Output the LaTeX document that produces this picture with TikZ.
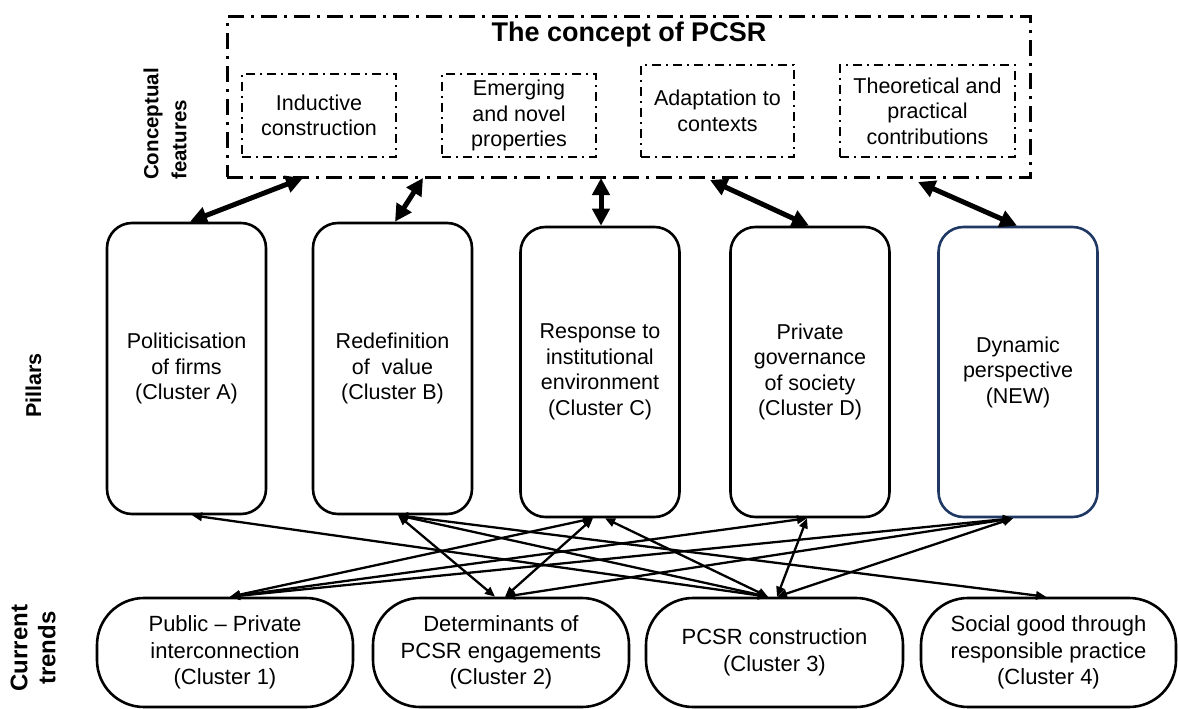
\documentclass[tikz,border=0pt]{standalone}
\usepackage{fontspec}
\setmainfont{Liberation Sans}
\usetikzlibrary{arrows.meta,calc}
\definecolor{navy}{RGB}{31,56,100}
\begin{document}
\begin{tikzpicture}[x=1pt,y=1pt,
  txt/.style={font=\fontsize{21.5}{25.5}\selectfont, align=center},
  pillar/.style={draw, line width=2.6pt, rounded corners=25pt, txt, minimum width=159pt, minimum height=291pt, inner sep=0pt},
  trend/.style={draw, line width=2.6pt, rounded corners=47pt, font=\fontsize{22}{26.5}\selectfont, align=center, minimum width=256pt, minimum height=109pt, inner sep=0pt},
  feat/.style={draw, line width=2pt, dash pattern=on 9pt off 5pt on 2pt off 5pt, txt, inner sep=0pt},
  outerbox/.style={draw, line width=3pt, dash pattern=on 16pt off 7pt on 3pt off 7pt, inner sep=0pt},
  bigarrow/.style={line width=5pt, {Triangle[length=17pt,width=17pt]}-{Triangle[length=17pt,width=17pt]}},
  thinarrow/.style={line width=2.3pt, {Triangle[length=10pt,width=8.5pt]}-{Triangle[length=10pt,width=8.5pt]}},
  sidelabel/.style={font=\bfseries, rotate=90, inner sep=0pt}
]
\useasboundingbox (0,0) rectangle (1178,-709);

% outer concept box
\node[outerbox, minimum width=803pt, minimum height=160pt] (outer) at (628.5,-97) {};
\node[font=\fontsize{27}{31}\selectfont\bfseries, anchor=base] (title) at (629,-42) {The concept of PCSR};

% conceptual features
\node[feat, minimum width=154pt, minimum height=83pt] (ind) at (319,-115.5) {Inductive\\construction};
\node[feat, minimum width=154pt, minimum height=83pt] (emg) at (519,-115.5) {Emerging\\and novel\\properties};
\node[feat, minimum width=153pt, minimum height=92pt] (ada) at (717.5,-111) {Adaptation to\\contexts};
\node[feat, minimum width=175pt, minimum height=92pt] (the) at (927.5,-111) {Theoretical and\\practical\\contributions};

% pillars
\node[pillar] (pa) at (186.5,-368.5) {Politicisation\\of firms\\(Cluster A)};
\node[pillar] (pb) at (392.5,-368.5) {Redefinition\\of\ \ value\\(Cluster B)};
\node[pillar, minimum height=290pt] (pc) at (600,-372) {Response to\\institutional\\environment\\(Cluster C)};
\node[pillar, minimum height=290pt] (pd) at (810,-372) {Private\\governance\\of society\\(Cluster D)};
\node[pillar, minimum height=290pt, draw=navy] (pn) at (1018,-372) {Dynamic\\perspective\\(NEW)};

% current trends
\node[trend] (t1) at (225,-652.5) {Public -- Private\\interconnection\\(Cluster 1)};
\node[trend] (t2) at (501,-652.5) {Determinants of\\PCSR engagements\\(Cluster 2)};
\node[trend, minimum width=257pt] (t3) at (774.5,-652.5) {PCSR construction\\(Cluster 3)};
\node[trend, minimum width=255pt] (t4) at (1048.5,-652.5) {Social good through\\responsible practice\\(Cluster 4)};

% side labels
\node[sidelabel, font=\fontsize{20.5}{28}\selectfont\bfseries, align=left, anchor=west] (lconc) at (165,-180) {Conceptual\\features};
\node[sidelabel, font=\fontsize{21.5}{26}\selectfont\bfseries] (lpil) at (33.5,-385.5) {Pillars};
\node[sidelabel, font=\fontsize{24}{28}\selectfont\bfseries, align=center] (ltr) at (33,-648) {Current\\trends};

% thick arrows from the concept box to the pillars
\coordinate (f1) at (303,-178);
\coordinate (f2) at (423,-178);
\coordinate (f3) at (601,-178);
\coordinate (f4) at (710,-180);
\coordinate (f5) at (918,-182);
\draw[bigarrow] (f1) -- ($(pa.north)+(3.5,0)$);
\draw[bigarrow] (f2) -- ($(pb.north)+(2.5,0)$);
\draw[bigarrow] (f3) -- ($(pc.north)+(1,0)$);
\draw[bigarrow] (f4) -- ($(pd.north)+(-1,0)$);
\draw[bigarrow] (f5) -- ($(pn.north)+(-1,0)$);

% thin arrows between pillars and trends
\draw[thinarrow] ($(pa.south)+(5.5,0)$) -- ($(t3.north)+(-6.5,0)$);
\draw[thinarrow] ($(pb.south)+(5.5,0)$) -- ($(t2.north)+(-6,0)$);
\draw[thinarrow] ($(pb.south)+(5.5,0)$) -- ($(t3.north)+(-6.5,0)$);
\draw[thinarrow] ($(pb.south)+(5.5,0)$) -- ($(t4.north)+(-2.5,0)$);
\draw[thinarrow] ($(pc.south)+(-7,0)$) -- ($(t1.north)+(5,0)$);
\draw[thinarrow] ($(pc.south)+(-7,0)$) -- ($(t2.north)+(4,0)$);
\draw[thinarrow] ($(pc.south)+(5,0)$) -- ($(t3.north)+(-6.5,0)$);
\draw[thinarrow] ($(pd.south)+(-3,0)$) -- ($(t1.north)+(5,0)$);
\draw[thinarrow] ($(pd.south)+(-3,0)$) -- ($(t3.north)+(2.5,0)$);
\draw[thinarrow] ($(pn.south)+(-5,0)$) -- ($(t1.north)+(5,0)$);
\draw[thinarrow] ($(pn.south)+(-5,0)$) -- ($(t2.north)+(4,0)$);
\draw[thinarrow] ($(pn.south)+(-5,0)$) -- ($(t3.north)+(2.5,0)$);
\end{tikzpicture}
\end{document}
